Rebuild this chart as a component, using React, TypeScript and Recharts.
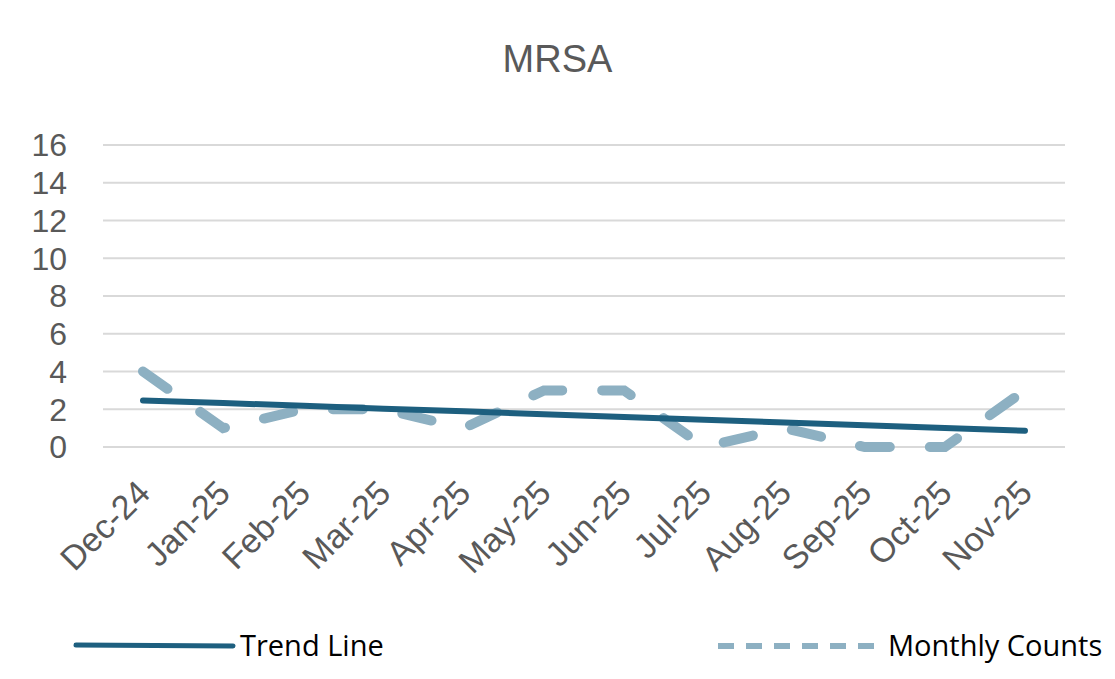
import { LineChart, Line, XAxis, YAxis, CartesianGrid } from "recharts";

const months = ["Dec-24", "Jan-25", "Feb-25", "Mar-25", "Apr-25", "May-25", "Jun-25", "Jul-25", "Aug-25", "Sep-25", "Oct-25", "Nov-25"];
const monthlyCounts = [4, 1, 2, 2, 1, 3, 3, 0, 1, 0, 0, 3];
const trendLine = [2.47, 2.33, 2.18, 2.03, 1.89, 1.74, 1.59, 1.45, 1.3, 1.15, 1.01, 0.86];
const yTicks = [0, 2, 4, 6, 8, 10, 12, 14, 16];

const data = months.map((m, i) => ({ month: m, counts: monthlyCounts[i], trend: trendLine[i] }));

const TREND = "#1D5F7F";
const COUNTS = "#8DB0C2";
const AXIS_TEXT = "#595959";

const XTick = ({ x, y, payload }: any) => (
  <text
    transform={`translate(${x + 9}, ${y + 40}) rotate(-45)`}
    textAnchor="end"
    fill={AXIS_TEXT}
    fontSize={34}
    fontFamily="'Liberation Sans', Arial, sans-serif"
  >
    {payload.value}
  </text>
);

export default function App() {
  return (
    <div style={{ position: "absolute", left: 0, top: 0, width: 1115, height: 679, background: "#fff" }}>
      <div
        style={{
          position: "absolute",
          top: 38,
          width: 1115,
          textAlign: "center",
          fontSize: 38,
          color: AXIS_TEXT,
          fontFamily: "'Liberation Sans', Arial, sans-serif",
        }}
      >
        MRSA
      </div>
      <LineChart width={1115} height={600} data={data} margin={{ top: 145, right: 50, bottom: 33, left: 0 }}>
        <CartesianGrid horizontal vertical={false} stroke="#d9d9d9" strokeWidth={2} />
        <XAxis
          dataKey="month"
          axisLine={false}
          tickLine={false}
          interval={0}
          height={120}
          padding={{ left: 40, right: 40 }}
          tick={<XTick />}
        />
        <YAxis
          domain={[0, 16]}
          ticks={yTicks}
          interval={0}
          axisLine={false}
          tickLine={false}
          tickSize={0}
          tickMargin={36}
          width={103}
          tick={{ fill: AXIS_TEXT, fontSize: 32, fontFamily: "'Liberation Sans', Arial, sans-serif" }}
        />
        <Line
          dataKey="counts"
          stroke={COUNTS}
          strokeWidth={10}
          strokeDasharray="30 40"
          strokeLinecap="round"
          dot={false}
          type="linear"
          isAnimationActive={false}
        />
        <Line
          dataKey="trend"
          stroke={TREND}
          strokeWidth={6}
          strokeLinecap="round"
          dot={false}
          type="linear"
          isAnimationActive={false}
        />
      </LineChart>
      <svg style={{ position: "absolute", left: 0, top: 615 }} width={1115} height={60}>
        <line x1={76} y1={30} x2={233} y2={31} stroke={TREND} strokeWidth={5} strokeLinecap="round" />
        <text x={240} y={41} fontSize={29} fill="#000" fontFamily="'Open Sans', sans-serif">
          Trend Line
        </text>
        <line x1={718} y1={31} x2={880} y2={31} stroke={COUNTS} strokeWidth={6} strokeDasharray="16 12" />
        <text x={888} y={41} fontSize={29} fill="#000" fontFamily="'Open Sans', sans-serif">
          Monthly Counts
        </text>
      </svg>
    </div>
  );
}
